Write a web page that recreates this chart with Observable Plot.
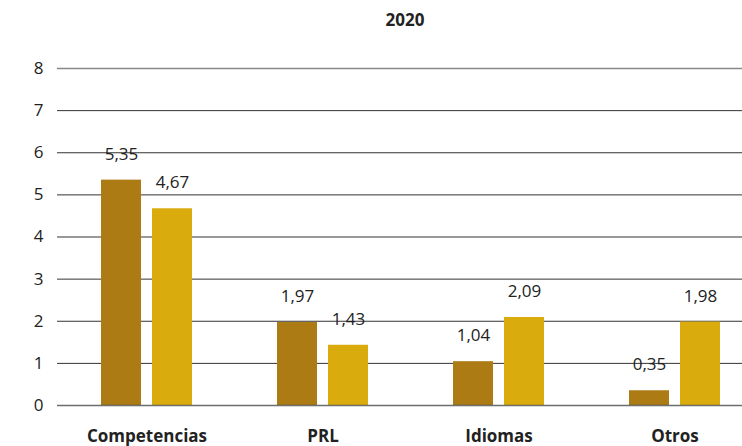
<!DOCTYPE html>
<html><head><meta charset="utf-8">
<script src="https://cdn.jsdelivr.net/npm/d3@7"></script>
<script src="https://cdn.jsdelivr.net/npm/@observablehq/plot@0.6"></script>
<style>
body{margin:0;background:#fff;font-family:"Open Sans",sans-serif;}
#title{box-sizing:border-box;width:742px;height:40px;line-height:40px;padding-left:68px;text-align:center;font-weight:bold;font-size:17px;color:#222;}
</style></head><body>
<div id="title"></div><div id="chart"></div>
<script>
const title = "2020";
const categories = ["Competencias", "PRL", "Idiomas", "Otros"];
const series1 = [5.35, 1.97, 1.04, 0.35];
const series2 = [4.67, 1.43, 2.09, 1.98];
const yTicks = [0, 1, 2, 3, 4, 5, 6, 7, 8];

const c1 = "#AC7B13", c2 = "#D9AB0C";
const d1 = categories.map((c, i) => ({cat: c, v: series1[i]}));
const d2 = categories.map((c, i) => ({cat: c, v: series2[i]}));
const fmt = v => d3.format(".2f")(v).replace(".", ",");

document.getElementById("title").textContent = title;

const chart = Plot.plot({
  width: 742, height: 406,
  marginLeft: 57, marginRight: 0, marginTop: 28, marginBottom: 41,
  style: {fontFamily: "Open Sans, sans-serif", fontSize: "17px", color: "#222", background: "#fff"},
  x: {type: "band", domain: categories, range: [101, 720], paddingInner: 0.483, paddingOuter: 0},
  y: {domain: [0, 8]},
  marks: [
    Plot.ruleY(yTicks.filter(t => t > 0 && t < 8), {stroke: "#333", strokeWidth: 1}),
    Plot.ruleY([8], {stroke: "#888", strokeWidth: 1.5}),
    Plot.barY(d1, {x: "cat", y: "v", fill: c1, insetRight: 51}),
    Plot.barY(d2, {x: "cat", y: "v", fill: c2, insetLeft: 51}),
    Plot.ruleY([0], {stroke: "#555", strokeWidth: 1.5, strokeOpacity: 0.85}),
    Plot.text(d1, {x: "cat", y: "v", text: d => fmt(d.v), dx: -25.5, dy: -26, fontSize: 17, fill: "#222"}),
    Plot.text(d2, {x: "cat", y: "v", text: d => fmt(d.v), dx: 25.5, dy: -26, fontSize: 17, fill: "#222"}),
    Plot.axisY({ticks: yTicks, tickSize: 0, tickPadding: 14, label: null, fontSize: 17, tickFormat: d => String(d)}),
    Plot.axisX({tickSize: 0, tickPadding: 24, label: null, fontSize: 17, fontWeight: "bold"})
  ]
});
document.getElementById("chart").appendChild(chart);
</script>
</body></html>
